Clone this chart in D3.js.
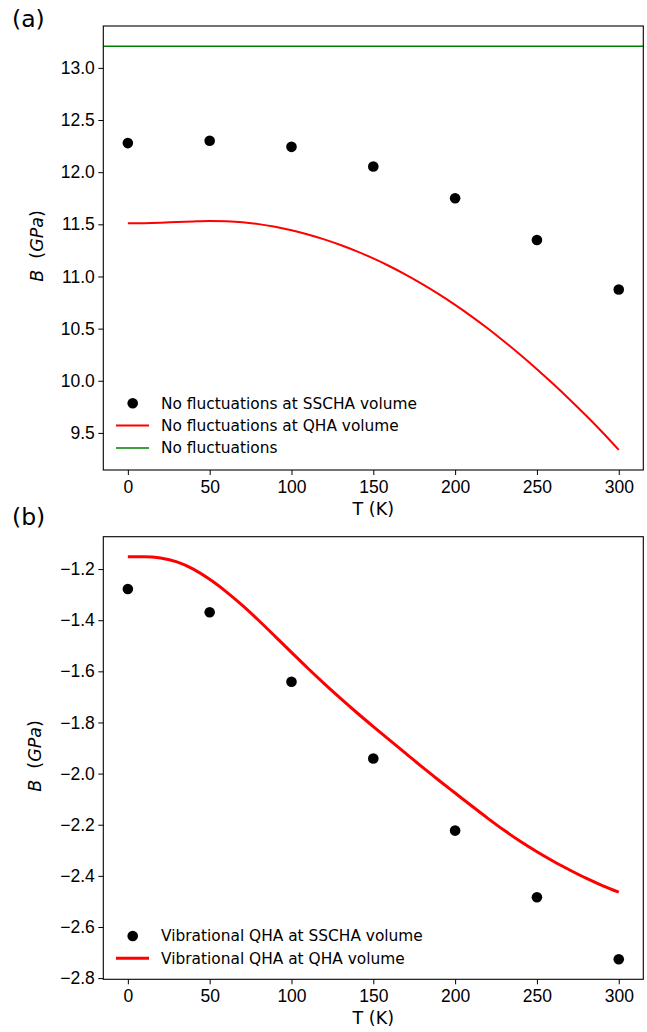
<!DOCTYPE html>
<html lang="en">
<head>
<meta charset="UTF-8">
<title>Bulk modulus vs temperature</title>
<script src="https://d3js.org/d3.v7.min.js"></script>
<style>
    body { margin: 0; background: #fff; }
    svg { display: block; font-family: "DejaVu Sans", sans-serif; }
    .tick text { font-size: 17.5px; fill: #000; }
    .tick line, .domain { stroke: #000; }
</style>
</head>
<body>
<svg id="fig" width="647" height="1032"></svg>
<script>
// temperatures of the SSCHA points
const tempPoints = [0, 50, 100, 150, 200, 250, 300];
// temperatures of the QHA curves
const tempCurve = [0, 10, 20, 30, 40, 50, 60, 70, 80, 90, 100, 110, 120, 130, 140, 150,
                   160, 170, 180, 190, 200, 210, 220, 230, 240, 250, 260, 270, 280, 290, 300];

// panel (a)
const bSschaA = [12.279, 12.301, 12.243, 12.054, 11.75, 11.349, 10.875];
const bQhaA = [11.51, 11.511, 11.515, 11.522, 11.528, 11.532, 11.529, 11.52, 11.502, 11.476, 11.443,
               11.403, 11.356, 11.302, 11.241, 11.173, 11.098, 11.016, 10.927, 10.831, 10.728,
               10.618, 10.501, 10.377, 10.247, 10.111, 9.969, 9.821, 9.667, 9.507, 9.338];
const bNoFluct = 13.208;
const yTicksA = [9.5, 10.0, 10.5, 11.0, 11.5, 12.0, 12.5, 13.0];
const legendA = ["No fluctuations at SSCHA volume", "No fluctuations at QHA volume", "No fluctuations"];

// panel (b)
const bSschaB = [-1.278, -1.369, -1.641, -1.941, -2.223, -2.484, -2.726];
const bQhaB = [-1.152, -1.152, -1.157, -1.172, -1.2, -1.24, -1.288, -1.342, -1.401, -1.463, -1.526,
               -1.588, -1.648, -1.706, -1.762, -1.816, -1.869, -1.922, -1.975, -2.026, -2.076,
               -2.126, -2.175, -2.222, -2.266, -2.306, -2.343, -2.377, -2.409, -2.438, -2.464];
const yTicksB = [-2.8, -2.6, -2.4, -2.2, -2.0, -1.8, -1.6, -1.4, -1.2];
const legendB = ["Vibrational QHA at SSCHA volume", "Vibrational QHA at QHA volume"];

const xTicks = [0, 50, 100, 150, 200, 250, 300];

const svg = d3.select("#fig");
const left = 103.3, right = 643.3;

// matplotlib-like 5% margins
function padded(ext) {
    const p = (ext[1] - ext[0]) * 0.05;
    return [ext[0] - p, ext[1] + p];
}

function panel(opt) {
    const g = svg.append("g");
    const x = d3.scaleLinear().domain(padded(d3.extent(tempCurve))).range([left, right]);
    const y = d3.scaleLinear().domain(padded(d3.extent(opt.allY))).range([opt.bottom, opt.top]);

    // curves
    const line = d3.line().x((d, i) => x(tempCurve[i])).y(d => y(d)).curve(d3.curveMonotoneX);
    g.append("path").datum(opt.curve)
        .attr("d", line).attr("fill", "none")
        .attr("stroke", "#ff0000").attr("stroke-width", opt.curveWidth);

    if (opt.hline !== undefined) {
        g.append("line")
            .attr("x1", left).attr("x2", right)
            .attr("y1", y(opt.hline)).attr("y2", y(opt.hline))
            .attr("stroke", "#008000").attr("stroke-width", 1.5);
    }

    g.selectAll("circle.pt").data(opt.points).enter().append("circle")
        .attr("class", "pt")
        .attr("cx", (d, i) => x(tempPoints[i]))
        .attr("cy", d => y(d))
        .attr("r", 5.3).attr("fill", "#000");

    // frame
    g.append("rect")
        .attr("x", left).attr("y", opt.top)
        .attr("width", right - left).attr("height", opt.bottom - opt.top)
        .attr("fill", "none").attr("stroke", "#000").attr("stroke-width", 1.1);

    g.append("g").attr("transform", `translate(0,${opt.bottom})`)
        .call(d3.axisBottom(x).tickValues(xTicks).tickSize(5).tickPadding(5.5))
        .call(a => a.select(".domain").remove());

    g.append("g").attr("transform", `translate(${left},0)`)
        .call(d3.axisLeft(y).tickValues(opt.yTicks).tickFormat(d3.format(".1f")).tickSize(5).tickPadding(3.5))
        .call(a => a.select(".domain").remove());

    // axis titles
    g.append("text")
        .attr("x", (left + right) / 2).attr("y", opt.bottom + 45)
        .attr("text-anchor", "middle").attr("font-size", 17.5)
        .text("T (K)");

    const yl = g.append("text")
        .attr("transform", `translate(${opt.ylabX},${(opt.top + opt.bottom) / 2 - 2}) rotate(-90)`)
        .attr("text-anchor", "middle").attr("font-size", 17.5);
    yl.append("tspan").attr("font-style", "italic").text("B");
    yl.append("tspan").attr("xml:space", "preserve").text("  (");
    yl.append("tspan").attr("font-style", "italic").text("GPa");
    yl.append("tspan").text(")");

    // panel letter
    g.append("text").attr("x", 12).attr("y", opt.letterY)
        .attr("font-size", 23.5).text(opt.letter);

    // legend
    const lg = g.append("g");
    opt.legend.forEach((label, i) => {
        const ly = opt.legendY + i * 22.3;
        if (i === 0) {
            lg.append("circle").attr("cx", 132.7).attr("cy", ly).attr("r", 5.3).attr("fill", "#000");
        } else {
            lg.append("line").attr("x1", 116).attr("x2", 149).attr("y1", ly).attr("y2", ly)
                .attr("stroke", i === 1 ? "#ff0000" : "#008000")
                .attr("stroke-width", i === 1 ? opt.curveWidth : 1.5);
        }
        lg.append("text").attr("x", 161).attr("y", ly).attr("dy", "0.35em")
            .attr("font-size", 15.4).text(label);
    });
}

panel({
    letter: "(a)", letterY: 27, top: 26, bottom: 470,
    points: bSschaA, curve: bQhaA, hline: bNoFluct,
    allY: bSschaA.concat(bQhaA, [bNoFluct]),
    yTicks: yTicksA, curveWidth: 2, ylabX: 43,
    legend: legendA, legendY: 403.3
});

panel({
    letter: "(b)", letterY: 525, top: 536.7, bottom: 979.3,
    points: bSschaB, curve: bQhaB,
    allY: bSschaB.concat(bQhaB),
    yTicks: yTicksB, curveWidth: 3, ylabX: 40.5,
    legend: legendB, legendY: 936
});
</script>
</body>
</html>
